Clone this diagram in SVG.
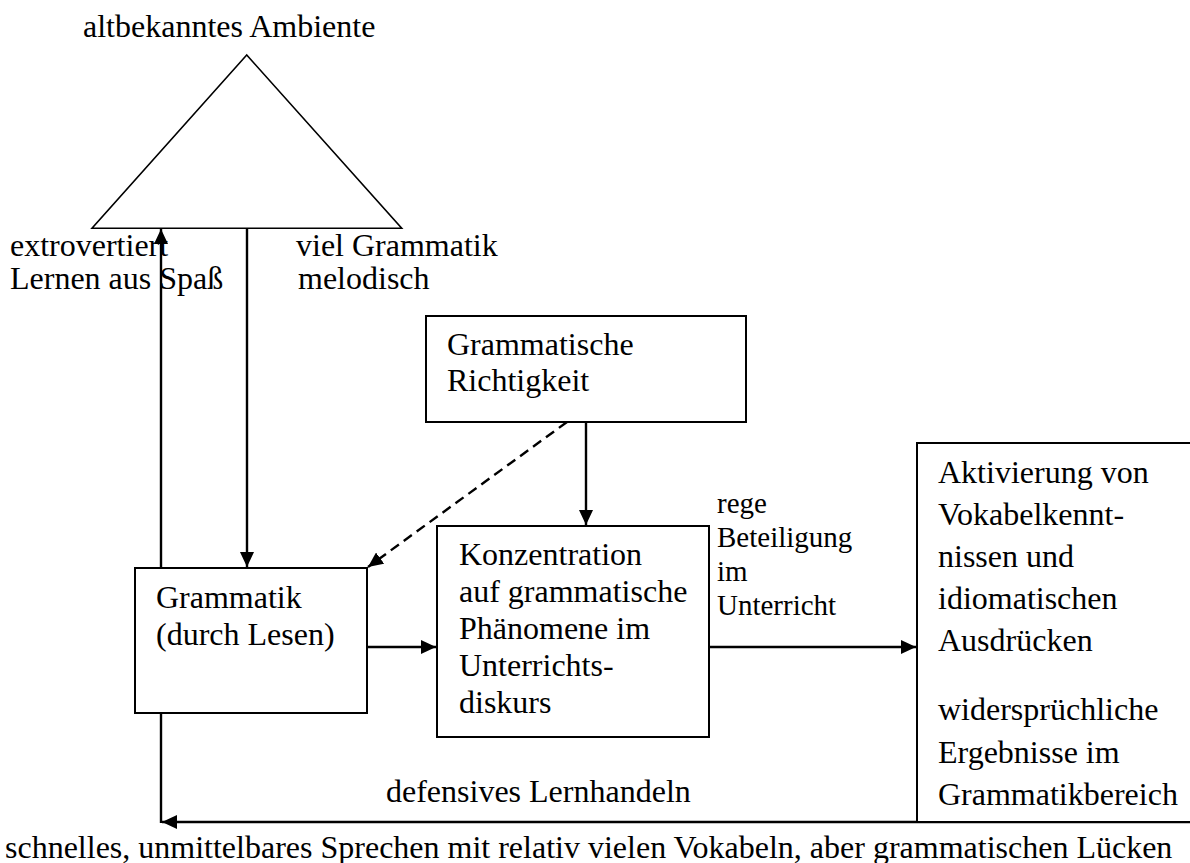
<svg xmlns="http://www.w3.org/2000/svg" width="1190" height="863" viewBox="0 0 1190 863">
<style>
text{font-family:"Liberation Serif","Times New Roman",serif;font-size:32px;fill:#000}
.small{font-size:29px}
.box{fill:#fff;stroke:#000;stroke-width:2}
.tri{fill:#fff;stroke:#000;stroke-width:1.6}
.con{fill:none;stroke:#000;stroke-width:2.4}
.dash{stroke-dasharray:10,6}
</style>
<defs>
<marker id="ah" markerUnits="userSpaceOnUse" markerWidth="16" markerHeight="14" refX="15" refY="7" orient="auto">
<path d="M0,0 L15,7 L0,14 z" fill="#000"/>
</marker>
</defs>
<rect width="1190" height="863" fill="#fff"/>
<g id="connectors">
<line class="con" x1="161" y1="568" x2="161" y2="229" marker-end="url(#ah)"/>
<line class="con" x1="247" y1="229" x2="247" y2="567" marker-end="url(#ah)"/>
<line class="con dash" x1="567" y1="422" x2="368" y2="567" marker-end="url(#ah)"/>
<line class="con" x1="586" y1="422" x2="586" y2="525" marker-end="url(#ah)"/>
<line class="con" x1="367" y1="647" x2="436" y2="647" marker-end="url(#ah)"/>
<line class="con" x1="709" y1="647" x2="916" y2="647" marker-end="url(#ah)"/>
<line class="con" x1="161" y1="713" x2="161" y2="823"/>
<line class="con" x1="1195" y1="822" x2="162" y2="822" marker-end="url(#ah)"/>
</g>
<g id="ambiente">
<polygon class="tri" points="246.7,55 92,228.3 401.7,228.3"/>
<text x="83" y="37">altbekanntes Ambiente</text>
</g>
<g id="label-left">
<text x="10" y="256">extrovertiert</text>
<text x="10" y="289">Lernen aus Spaß</text>
</g>
<g id="label-right">
<text x="296" y="256">viel Grammatik</text>
<text x="298" y="289">melodisch</text>
</g>
<g id="richtigkeit">
<rect class="box" x="426" y="316" width="320" height="106"/>
<text x="447" y="355">Grammatische</text>
<text x="447" y="391">Richtigkeit</text>
</g>
<g id="grammatik">
<rect class="box" x="135" y="568" width="232" height="145"/>
<text x="156" y="608">Grammatik</text>
<text x="156" y="645">(durch Lesen)</text>
</g>
<g id="konzentration">
<rect class="box" x="437" y="526" width="272" height="211"/>
<text x="459" y="565">Konzentration</text>
<text x="459" y="602">auf grammatische</text>
<text x="459" y="639">Phänomene im</text>
<text x="459" y="676">Unterrichts-</text>
<text x="459" y="713">diskurs</text>
</g>
<g id="label-rege">
<text class="small" x="717" y="513">rege</text>
<text class="small" x="717" y="547">Beteiligung</text>
<text class="small" x="717" y="581">im</text>
<text class="small" x="717" y="615">Unterricht</text>
</g>
<g id="aktivierung">
<rect class="box" x="917" y="443" width="290" height="379"/>
<text x="938" y="483">Aktivierung von</text>
<text x="938" y="525">Vokabelkennt-</text>
<text x="938" y="567">nissen und</text>
<text x="938" y="609">idiomatischen</text>
<text x="938" y="651">Ausdrücken</text>
<text x="938" y="720">widersprüchliche</text>
<text x="938" y="763">Ergebnisse im</text>
<text x="938" y="805">Grammatikbereich</text>
</g>
<g id="label-defensiv">
<text x="386" y="802">defensives Lernhandeln</text>
</g>
<g id="sprechen">
<text x="5" y="858">schnelles, unmittelbares Sprechen mit relativ vielen Vokabeln, aber grammatischen Lücken</text>
</g>
</svg>
